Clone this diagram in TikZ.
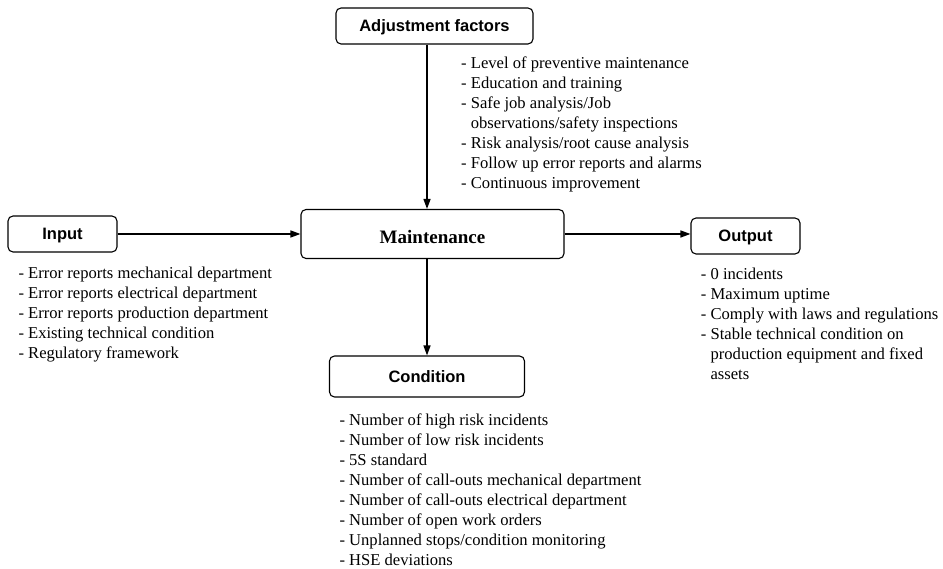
\documentclass[tikz,border=0pt]{standalone}
\usepackage{fontspec}
\setmainfont{Liberation Serif}
\setsansfont{Liberation Sans}
\usetikzlibrary{arrows.meta}
\newcommand{\listfont}{\fontsize{16.6}{20}\selectfont}
\newcommand{\cont}{\hphantom{- }}
\begin{document}
\begin{tikzpicture}[x=1pt,y=-1pt,
  box/.style={draw=black, line width=1.1pt, rounded corners=5pt, inner sep=0pt,
    text height=12pt, text depth=0pt,
    font=\sffamily\bfseries\fontsize{16.5}{20}\selectfont, align=center},
  mainbox/.style={box, text height=13pt, text depth=0pt,
    font=\rmfamily\bfseries\fontsize{19}{22}\selectfont},
  flow/.style={line width=1.4pt, -{Triangle[length=10pt,width=7pt]}},
  items/.style={inner sep=0pt, anchor=base west, font=\listfont}]
\useasboundingbox (0,0) rectangle (943,569);

% boxes
\node[box, minimum width=197pt, minimum height=36pt] (adj) at (434.5,26) {Adjustment factors};
\node[mainbox, minimum width=263pt, minimum height=49pt] (main) at (432.5,234) {\raisebox{-3pt}{Maintenance}};
\node[box, minimum width=195pt, minimum height=41pt] (cond) at (427,376.5) {Condition};
\node[box, minimum width=109pt, minimum height=36pt] (in) at (62.5,234) {Input};
\node[box, minimum width=109pt, minimum height=36pt] (out) at (745.5,236) {Output};

% connectors
\draw[flow] (adj.south -| cond.north) -- (main.north -| cond.north);
\draw[flow] (main.south -| cond.north) -- (cond.north);
\draw[flow] (in.east) -- (in.east -| main.west);
\draw[flow] (main.east) -- (main.east -| out.west);

% item lists
\node[items] (adjlist) at (461,69) {\begin{tabular}[t]{@{}l@{}}
- Level of preventive maintenance\\
- Education and training\\
- Safe job analysis/Job\\
\cont observations/safety inspections\\
- Risk analysis/root cause analysis\\
- Follow up error reports and alarms\\
- Continuous improvement
\end{tabular}};

\node[items] (inlist) at (18.3,279) {\begin{tabular}[t]{@{}l@{}}
- Error reports mechanical department\\
- Error reports electrical department\\
- Error reports production department\\
- Existing technical condition\\
- Regulatory framework
\end{tabular}};

\node[items] (outlist) at (700.7,280) {\begin{tabular}[t]{@{}l@{}}
- 0 incidents\\
- Maximum uptime\\
- Comply with laws and regulations\\
- Stable technical condition on\\
\cont production equipment and fixed\\
\cont assets
\end{tabular}};

\node[items] (condlist) at (339.3,425.3) {\begin{tabular}[t]{@{}l@{}}
- Number of high risk incidents\\
- Number of low risk incidents\\
- 5S standard\\
- Number of call-outs mechanical department\\
- Number of call-outs electrical department\\
- Number of open work orders\\
- Unplanned stops/condition monitoring\\
- HSE deviations
\end{tabular}};
\end{tikzpicture}
\end{document}
